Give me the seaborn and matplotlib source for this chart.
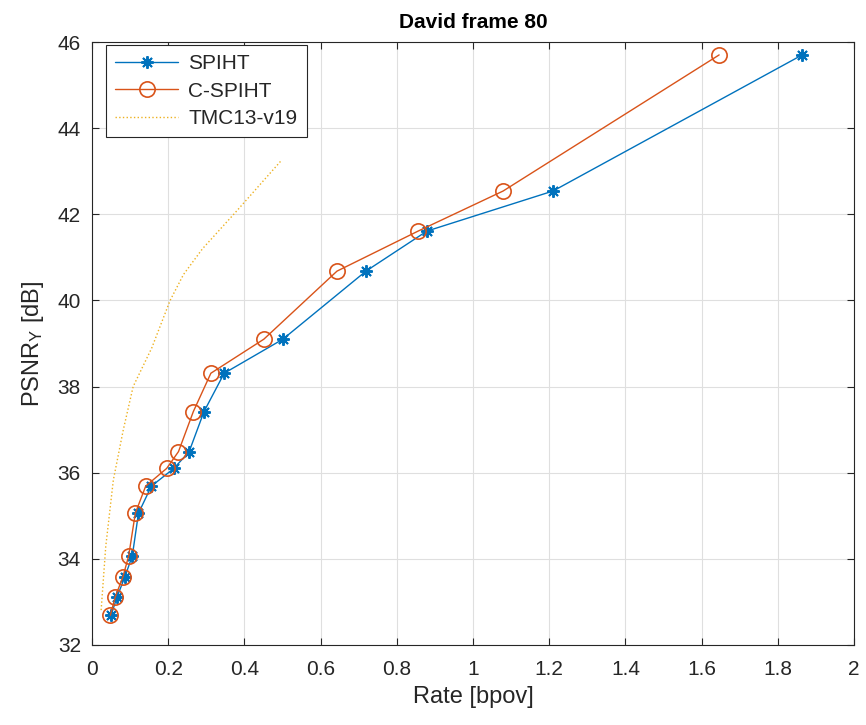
import matplotlib
matplotlib.use("Agg")
import matplotlib.pyplot as plt
import seaborn as sns
import numpy as np
import pandas as pd

spiht_rate = [0.050, 0.066, 0.0866, 0.1058, 0.122, 0.156, 0.215, 0.255, 0.294, 0.347, 0.501, 0.719, 0.879, 1.210, 1.864]
spiht_psnr = [32.69, 33.12, 33.59, 34.07, 35.06, 35.69, 36.10, 36.49, 37.42, 38.31, 39.10, 40.68, 41.61, 42.54, 45.70]
cspiht_rate = [0.0481, 0.0612, 0.0814, 0.0963, 0.1137, 0.141, 0.196, 0.227, 0.266, 0.312, 0.451, 0.643, 0.856, 1.079, 1.646]
cspiht_psnr = [32.69, 33.12, 33.59, 34.07, 35.06, 35.69, 36.10, 36.49, 37.42, 38.31, 39.10, 40.68, 41.61, 42.54, 45.70]
tmc_rate = [0.024, 0.036, 0.056, 0.082, 0.108, 0.157, 0.205, 0.24, 0.29, 0.375, 0.498]
tmc_psnr = [32.81, 34.28, 35.83, 36.99, 38.0, 38.9, 40.0, 40.6, 41.2, 42.03, 43.26]
x_ticks = [0, 0.2, 0.4, 0.6, 0.8, 1, 1.2, 1.4, 1.6, 1.8, 2]
x_tick_labels = ["0", "0.2", "0.4", "0.6", "0.8", "1", "1.2", "1.4", "1.6", "1.8", "2"]
y_ticks = [32, 34, 36, 38, 40, 42, 44, 46]

sns.set_theme(style="whitegrid")
plt.rcParams['font.family'] = ['Liberation Sans', 'DejaVu Sans']
plt.rcParams['mathtext.fontset'] = 'custom'
plt.rcParams['mathtext.rm'] = 'Liberation Sans'
plt.rcParams['mathtext.it'] = 'Liberation Sans'

fig = plt.figure(figsize=(8.66, 7.25), dpi=100)
ax = fig.add_axes([92/866, 1-645/725, (854-92)/866, (645-42)/725])

blue = "#0072BD"
orange = "#D95319"
yellow = "#EDB120"

sns.lineplot(x=spiht_rate, y=spiht_psnr, ax=ax, sort=False, color=blue, lw=1,
             marker=(8, 2, 0), markersize=9, markeredgewidth=1.4, markeredgecolor=blue, label="SPIHT")
sns.lineplot(x=cspiht_rate, y=cspiht_psnr, ax=ax, sort=False, color=orange, lw=1,
             marker="o", markersize=11, markerfacecolor="none", markeredgewidth=1.2,
             markeredgecolor=orange, label="C-SPIHT")
sns.lineplot(x=tmc_rate, y=tmc_psnr, ax=ax, sort=False, color=yellow, lw=1,
             linestyle=":", label="TMC13-v19")

ax.set_xlim(0, 2)
ax.set_ylim(32, 46)
ax.set_xticks(x_ticks)
ax.set_xticklabels(x_tick_labels)
ax.set_yticks(y_ticks)
ax.grid(True, color="#dfdfdf", lw=0.8)
ax.set_axisbelow(True)
for s in ax.spines.values():
    s.set_color("#262626")
    s.set_linewidth(0.8)
    s.set_visible(True)
ax.tick_params(axis="both", direction="in", length=5, width=0.8, colors="#262626",
               labelsize=15, labelcolor="#262626", top=True, right=True)
ax.tick_params(axis="x", bottom=True, pad=11)
ax.tick_params(axis="y", left=True, pad=8)
ax.set_xlabel("Rate [bpov]", fontsize=17, color="#262626", labelpad=5)
ax.set_ylabel("PSNR$_Y$ [dB]", fontsize=17, color="#262626", labelpad=8)
ax.set_title("David frame 80", fontsize=15, fontweight="bold", color="black", pad=10)

leg = ax.legend(loc="upper left", bbox_to_anchor=(14/762, 1-3/603), fontsize=15,
                frameon=True, fancybox=False, handlelength=3.0, borderpad=0.45,
                labelspacing=0.4, handletextpad=0.5, borderaxespad=0)
leg.get_frame().set_edgecolor("#262626")
leg.get_frame().set_linewidth(0.8)
leg.get_frame().set_alpha(1)

fig.savefig("out.png", dpi=100)
